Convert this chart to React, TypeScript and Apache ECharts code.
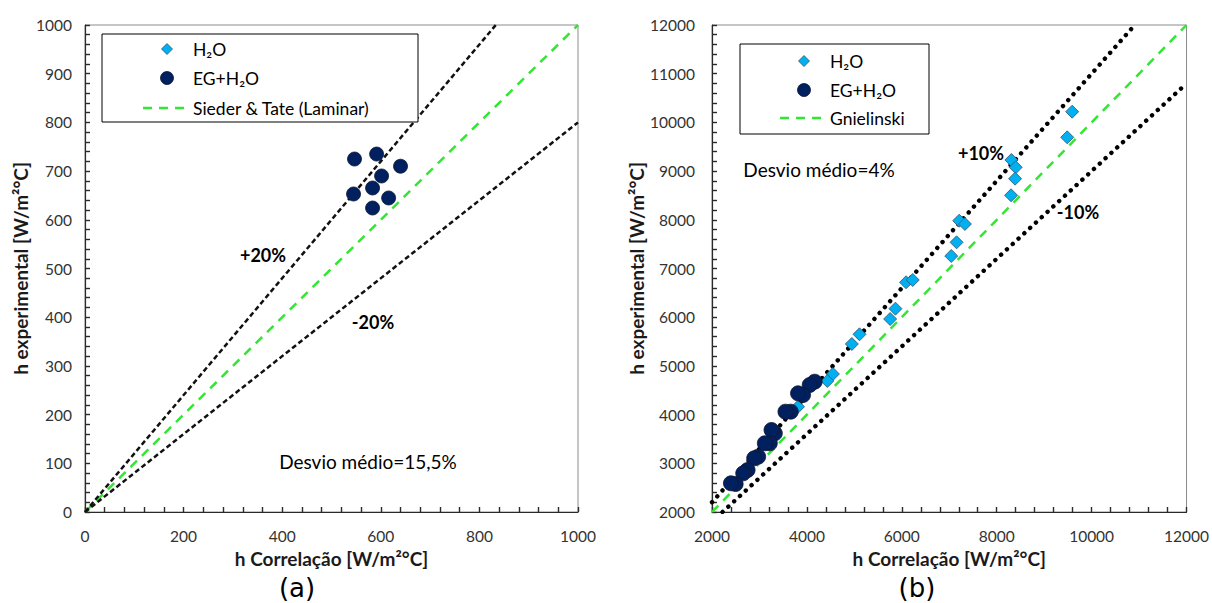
import React, { useEffect, useRef } from "react";
import * as echarts from "echarts";

// ---- Chart (a): laminar ----
const egLeftX = [546.7, 591.5, 640, 601.6, 544.7, 583.3, 615.9, 583.3];
const egLeftY = [724.8, 735, 710, 690, 653, 665.3, 644.8, 624.2];
const lamIdeal = [[0, 0], [1000, 1000]];
const lamPlus20 = [[0, 0], [833.3, 1000]];
const lamMinus20 = [[0, 0], [1000, 800]];

// ---- Chart (b): turbulent ----
const h2oRightX = [9590, 9485, 8309, 8400, 8387, 8303, 7210, 7330, 7154, 7042, 6090, 6230, 5866, 5754, 5109, 4947, 4548, 4430, 3813];
const h2oRightY = [10220, 9694, 9228, 9078, 8844, 8503, 7982, 7914, 7538, 7257, 6717, 6764, 6175, 5963, 5649, 5450, 4834, 4690, 4162];
const egRightX = [4164, 4059, 3918, 3813, 3660, 3548, 3324, 3254, 3218, 3113, 2973, 2889, 2750, 2658, 2498, 2399];
const egRightY = [4676, 4608, 4402, 4437, 4060, 4060, 3616, 3684, 3411, 3411, 3136, 3103, 2862, 2794, 2575, 2589];
const turbIdeal = [[2000, 2000], [12000, 12000]];
const turbPlus10 = [[2000, 2200], [10909, 12000]];
const turbMinus10 = [[2222, 2000], [12000, 10800]];

const xTicksA = { min: 0, max: 1000, interval: 200 };
const yTicksA = { min: 0, max: 1000, interval: 100 };
const xTicksB = { min: 2000, max: 12000, interval: 2000 };
const yTicksB = { min: 2000, max: 12000, interval: 1000 };

const legendA = ["H₂O", "EG+H₂O", "Sieder & Tate (Laminar)"];
const legendB = ["H₂O", "EG+H₂O", "Gnielinski"];

const FONT = "Lato";
const zip = (xs: number[], ys: number[]) => xs.map((x, i) => [x, ys[i]]);

const EG_COLOR = "#002060";
const EG_BORDER = "#10182e";
const H2O_COLOR = "#00b0f0";
const H2O_BORDER = "#35506a";
const GREEN = "#33e633";
const AXIS = "#2a2a2a";

export default function App() {
  const ref = useRef<HTMLDivElement>(null);
  useEffect(() => {
    if (!ref.current) return;
    const chart = echarts.init(ref.current, undefined, { renderer: "svg" });
    const axisCommon = (labelMargin: number) => ({
      type: "value" as const,
      splitLine: { show: false },
      axisLine: { show: true, onZero: false, lineStyle: { color: AXIS, width: 1.2 } },
      axisTick: { show: true, inside: true, length: 5, lineStyle: { color: AXIS, width: 1.4 } },
      minorTick: { show: true, splitNumber: 5, length: 5, lineStyle: { color: AXIS, width: 1.4 } },
      axisLabel: {
        color: "#333", fontSize: 15.5, fontFamily: FONT, margin: labelMargin,
        formatter: (v: number) => String(v),
      },
      nameTextStyle: { color: "#1a1a1a", fontSize: 19, fontWeight: "bold", fontFamily: FONT },
      nameLocation: "middle" as const,
    });
    const eg = { color: EG_COLOR, borderColor: EG_BORDER, borderWidth: 0.8, opacity: 1 };
    const h2o = { color: H2O_COLOR, borderColor: H2O_BORDER, borderWidth: 0.8, opacity: 1 };
    const greenDash = { color: GREEN, width: 2.5, type: [9, 7] };
    const blackDash = { color: "#111", width: 2.5, type: [5, 3] };
    const blackDot = { color: "#000", width: 4.4, type: [0.1, 7.8], cap: "round" };
    const txt = (text: string, x: number, y: number, font: string, align = "center") => ({
      type: "text",
      x,
      y,
      z: 20,
      style: { text, font, fill: "#000", align, verticalAlign: "middle" },
    });
    const legendGraphics = (labels: string[], iconX: number, textX: number, ys: number[], lineX1: number, lineX2: number) => [
      {
        type: "polygon", z: 20,
        shape: { points: [[iconX, ys[0] - 5.5], [iconX + 5.5, ys[0]], [iconX, ys[0] + 5.5], [iconX - 5.5, ys[0]]] },
        style: { fill: H2O_COLOR, stroke: H2O_BORDER, lineWidth: 0.8 },
      },
      {
        type: "circle", z: 20,
        shape: { cx: iconX, cy: ys[1], r: 6.5 },
        style: { fill: EG_COLOR, stroke: EG_BORDER, lineWidth: 0.8 },
      },
      {
        type: "line", z: 20,
        shape: { x1: lineX1, y1: ys[2], x2: lineX2, y2: ys[2] },
        style: { stroke: GREEN, lineWidth: 2.5, lineDash: [9, 7] },
      },
      ...labels.map((l, i) => txt(l, textX, ys[i], `17.5px ${FONT}`, "left")),
    ];
    chart.setOption({
      animation: false,
      textStyle: { fontFamily: FONT },
      grid: [
        { left: 85, top: 25, width: 493, height: 487, show: true, borderColor: "#8c8c8c", borderWidth: 1 },
        { left: 712, top: 25, width: 476, height: 487, show: true, borderColor: "#8c8c8c", borderWidth: 1 },
      ],
      xAxis: [
        { ...axisCommon(16), gridIndex: 0, ...xTicksA, name: "h Correlação [W/m²°C]", nameGap: 33 },
        { ...axisCommon(16), gridIndex: 1, ...xTicksB, name: "h Correlação [W/m²°C]", nameGap: 33 },
      ],
      yAxis: [
        { ...axisCommon(13), gridIndex: 0, ...yTicksA, name: "h experimental [W/m²°C]", nameGap: 55 },
        { ...axisCommon(17), gridIndex: 1, ...yTicksB, name: "h experimental [W/m²°C]", nameGap: 64 },
      ],
      graphic: [
        { type: "rect", z: 10, shape: { x: 102, y: 34, width: 316, height: 88 }, style: { fill: "#fff", stroke: "#000", lineWidth: 1 } },
        { type: "rect", z: 10, shape: { x: 740, y: 44, width: 189, height: 90 }, style: { fill: "#fff", stroke: "#000", lineWidth: 1 } },
        ...legendGraphics(legendA, 167, 193, [49, 78, 108], 143, 188),
        ...legendGraphics(legendB, 804, 830, [61, 90, 118], 780, 825),
        txt("+20%", 263, 255, `bold 18px ${FONT}`),
        txt("-20%", 373, 322, `bold 18px ${FONT}`),
        txt("Desvio médio=15,5%", 368, 461, `19px ${FONT}`),
        txt("Desvio médio=4%", 819, 169, `19px ${FONT}`),
        txt("+10%", 981, 153, `bold 18px ${FONT}`),
        txt("-10%", 1078, 212, `bold 18px ${FONT}`),
        txt("(a)", 297, 588, `26px "DejaVu Sans"`),
        txt("(b)", 917, 588, `26px "DejaVu Sans"`),
      ],
      series: [
        { name: "Sieder & Tate (Laminar)", type: "line", xAxisIndex: 0, yAxisIndex: 0, symbol: "none", data: lamIdeal, lineStyle: greenDash, z: 2 },
        { name: "+20%", type: "line", xAxisIndex: 0, yAxisIndex: 0, symbol: "none", data: lamPlus20, lineStyle: blackDash, z: 2 },
        { name: "-20%", type: "line", xAxisIndex: 0, yAxisIndex: 0, symbol: "none", data: lamMinus20, lineStyle: blackDash, z: 2 },
        { name: "EG+H₂O", type: "scatter", xAxisIndex: 0, yAxisIndex: 0, symbol: "circle", symbolSize: 14, data: zip(egLeftX, egLeftY), itemStyle: eg, z: 3 },
        { name: "Gnielinski", type: "line", xAxisIndex: 1, yAxisIndex: 1, symbol: "none", data: turbIdeal, lineStyle: greenDash, z: 2 },
        { name: "+10%", type: "line", xAxisIndex: 1, yAxisIndex: 1, symbol: "none", data: turbPlus10, lineStyle: blackDot, z: 2 },
        { name: "-10%", type: "line", xAxisIndex: 1, yAxisIndex: 1, symbol: "none", data: turbMinus10, lineStyle: blackDot, z: 2 },
        { name: "H₂O", type: "scatter", xAxisIndex: 1, yAxisIndex: 1, symbol: "diamond", symbolSize: 13, data: zip(h2oRightX, h2oRightY), itemStyle: h2o, z: 3 },
        { name: "EG+H₂O", type: "scatter", xAxisIndex: 1, yAxisIndex: 1, symbol: "circle", symbolSize: 15, data: zip(egRightX, egRightY), itemStyle: eg, z: 3 },
      ],
    });
    return () => chart.dispose();
  }, []);
  return (
    <div
      ref={ref}
      style={{ position: "absolute", left: 0, top: 0, width: 1212, height: 603, background: "#fff" }}
    />
  );
}
